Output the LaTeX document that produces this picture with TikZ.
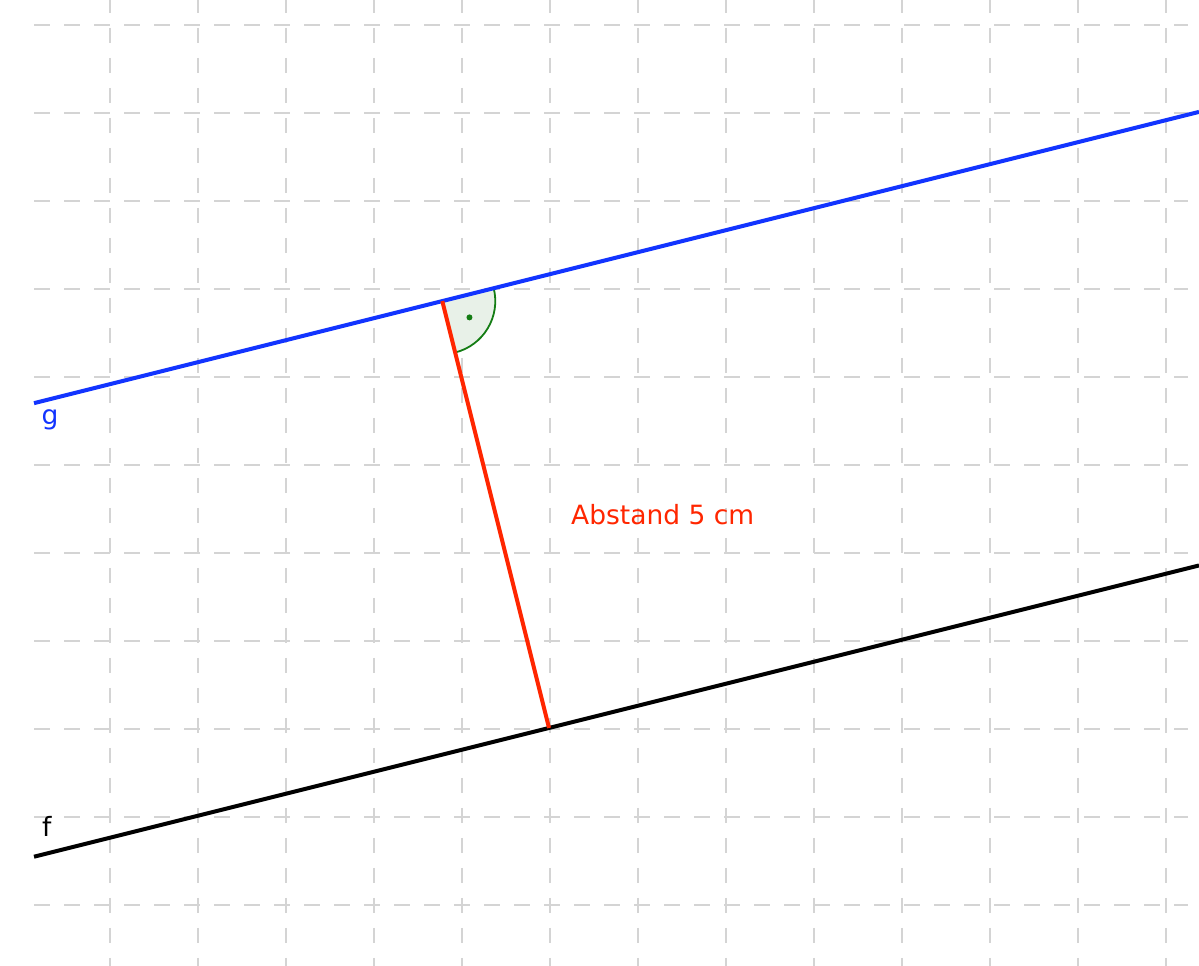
\documentclass[tikz,border=0pt]{standalone}
\usepackage{fontspec}
\setmainfont{DejaVu Sans}
\usetikzlibrary{calc}
\definecolor{gblue}{RGB}{18,52,255}
\definecolor{dred}{RGB}{255,38,0}
\definecolor{gridgray}{RGB}{212,212,212}
\definecolor{anggreen}{RGB}{20,125,20}
\definecolor{angfill}{RGB}{232,241,232}
\tikzset{
  hgrid/.style={draw=gridgray, line width=2pt, dash pattern=on 16pt off 14pt},
  vgrid/.style={draw=gridgray, line width=2pt, dash pattern=on 15pt off 15pt},
  lineg/.style={draw=gblue, line width=4pt},
  linef/.style={draw=black, line width=4pt},
  distseg/.style={draw=dred, line width=4pt},
  lbl/.style={font=\fontsize{26.5}{32}\selectfont, inner sep=0pt, anchor=base west},
}
\begin{document}
\begin{tikzpicture}[x=1pt,y=1pt]
\useasboundingbox (0,0) rectangle (1199,966);
\clip (0,0) rectangle (1199,966);
% grid
\foreach \k in {0,...,12}{
  \draw[vgrid] ({110+88*\k},968) -- ({110+88*\k},0);
}
\foreach \k in {0,...,10}{
  \draw[hgrid] (34,{941.3-88*\k}) -- (1188,{941.3-88*\k});
}
% key points
\coordinate (F) at (549,238.05);
\coordinate (G) at (442.28,664.91);
\coordinate (gL) at (34,562.84);
\coordinate (gR) at (1199,854.09);
\coordinate (fL) at (34,109.3);
\coordinate (fR) at (1199,400.55);
% right angle mark
\fill[angfill] (G) -- ++(-75.96:53) arc[start angle=-75.96, end angle=14.04, radius=53] -- cycle;
\draw[anggreen, line width=1.8pt] ($(G)+(-75.96:53)$) arc[start angle=-75.96, end angle=14.04, radius=53];
\fill[anggreen] ($(G)+(-30.96:31.7)$) circle[radius=3];
% lines
\draw[linef] (fL) -- (fR);
\draw[lineg] (gL) -- (gR);
\draw[distseg] (G) -- (F);
% labels
\node[lbl, text=gblue] (labg) at (41.5,541.2) {g};
\node[lbl, text=black] (labf) at (42,129.3) {f};
\node[lbl, text=dred] (labd) at (571,441) {Abstand 5 cm};
\end{tikzpicture}
\end{document}
